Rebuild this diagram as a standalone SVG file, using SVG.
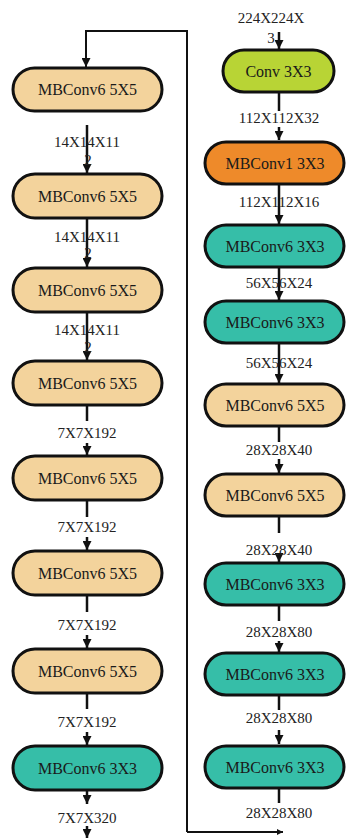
<svg xmlns="http://www.w3.org/2000/svg" width="346" height="838" viewBox="0 0 346 838">
<style>
.n{stroke:#111;stroke-width:3}
.tan{fill:#F3D39C}
.teal{fill:#36BEA8}
.lime{fill:#B8D435}
.orange{fill:#EE8A2A}
.t{font-family:"Liberation Serif","Times New Roman","DejaVu Serif",serif;font-size:16px;fill:#1a1a1a;text-anchor:middle}
.l{font-family:"Liberation Serif","Times New Roman","DejaVu Serif",serif;font-size:15px;fill:#222;text-anchor:middle}
.c{stroke:#111;stroke-width:2.5;fill:none}
.r{stroke:#111;stroke-width:2;fill:none}
</style>
<defs>
<marker id="ah" viewBox="0 0 10 10" refX="10" refY="5" markerWidth="9" markerHeight="9" markerUnits="userSpaceOnUse" orient="auto"><path d="M0,0 L10,5 L0,10 z" fill="#111"/></marker>
<marker id="as" viewBox="0 0 10 10" refX="10" refY="5" markerWidth="6" markerHeight="6" markerUnits="userSpaceOnUse" orient="auto"><path d="M0,0 L10,5 L0,10 z" fill="#111"/></marker>
</defs>
<g id="connectors">
<path class="c" d="M87,125 V173" marker-end="url(#ah)"/>
<path class="c" d="M87,218 V267" marker-end="url(#ah)"/>
<path class="c" d="M87,312 V360" marker-end="url(#ah)"/>
<path class="c" d="M87,405 V421"/><path class="c" d="M87,443 V455" marker-end="url(#ah)"/>
<path class="c" d="M87,500 V517"/><path class="c" d="M87,537 V550" marker-end="url(#ah)"/>
<path class="c" d="M87,595 V612"/><path class="c" d="M87,635 V648" marker-end="url(#ah)"/>
<path class="c" d="M87,693 V709"/><path class="c" d="M87,732 V745" marker-end="url(#ah)"/>
<path class="c" d="M87,790 V804" marker-end="url(#ah)"/>
<path class="c" d="M87,826 V838" marker-end="url(#ah)"/>
<path class="c" d="M279,32 V49" marker-end="url(#ah)"/>
<path class="c" d="M279,92 V111"/><path class="c" d="M279,127 V140" marker-end="url(#ah)"/>
<path class="c" d="M279,184 V224" marker-end="url(#ah)"/>
<path class="c" d="M279,267 V300" marker-end="url(#ah)"/>
<path class="c" d="M279,343 V383" marker-end="url(#ah)"/>
<path class="c" d="M279,426 V442"/><path class="c" d="M279,459 V473" marker-end="url(#ah)"/>
<path class="c" d="M279,516 V533"/><path class="c" d="M279,555 V562" marker-end="url(#ah)"/>
<path class="c" d="M279,605 V621"/><path class="c" d="M279,641 V652" marker-end="url(#ah)"/>
<path class="c" d="M279,695 V710"/><path class="c" d="M279,730 V744" marker-end="url(#ah)"/>
<path class="c" d="M279,788 V803"/>
<path class="r" d="M187,832 H283" marker-end="url(#as)"/>
<path class="r" d="M187,832 V31 H86 V67" marker-end="url(#ah)"/>
</g>
<g id="labels">
<text class="l" x="87" y="147">14X14X11</text><text class="l" x="88" y="165">2</text>
<text class="l" x="87" y="242">14X14X11</text><text class="l" x="88" y="258">2</text>
<text class="l" x="87" y="335">14X14X11</text><text class="l" x="88" y="352">2</text>
<text class="l" x="87" y="438">7X7X192</text>
<text class="l" x="87" y="532">7X7X192</text>
<text class="l" x="87" y="630">7X7X192</text>
<text class="l" x="87" y="727">7X7X192</text>
<text class="l" x="87" y="823">7X7X320</text>
<text class="l" x="271" y="23">224X224X</text><text class="l" x="271" y="43">3</text>
<text class="l" x="279" y="123">112X112X32</text>
<text class="l" x="279" y="207">112X112X16</text>
<text class="l" x="279" y="288">56X56X24</text>
<text class="l" x="279" y="368">56X56X24</text>
<text class="l" x="279" y="455">28X28X40</text>
<text class="l" x="279" y="555">28X28X40</text>
<text class="l" x="279" y="637">28X28X80</text>
<text class="l" x="279" y="723">28X28X80</text>
<text class="l" x="279" y="818">28X28X80</text>
</g>
<g id="L1"><rect class="n tan" x="13" y="68" width="149" height="43" rx="21.5"/><text class="t" x="87.5" y="95">MBConv6 5X5</text></g>
<g id="L2"><rect class="n tan" x="13" y="174" width="149" height="44" rx="22"/><text class="t" x="87.5" y="201.5">MBConv6 5X5</text></g>
<g id="L3"><rect class="n tan" x="13" y="268" width="149" height="44" rx="22"/><text class="t" x="87.5" y="295.5">MBConv6 5X5</text></g>
<g id="L4"><rect class="n tan" x="13" y="361" width="149" height="44" rx="22"/><text class="t" x="87.5" y="388.5">MBConv6 5X5</text></g>
<g id="L5"><rect class="n tan" x="13" y="456" width="149" height="44" rx="22"/><text class="t" x="87.5" y="483.5">MBConv6 5X5</text></g>
<g id="L6"><rect class="n tan" x="13" y="551" width="149" height="44" rx="22"/><text class="t" x="87.5" y="578.5">MBConv6 5X5</text></g>
<g id="L7"><rect class="n tan" x="13" y="649" width="149" height="44" rx="22"/><text class="t" x="87.5" y="676.5">MBConv6 5X5</text></g>
<g id="L8"><rect class="n teal" x="13" y="746" width="149" height="44" rx="22"/><text class="t" x="87.5" y="773.5">MBConv6 3X3</text></g>
<g id="R1"><rect class="n lime" x="223" y="50" width="111" height="42" rx="21"/><text class="t" x="278.5" y="76.5">Conv 3X3</text></g>
<g id="R2"><rect class="n orange" x="205" y="142" width="139" height="42" rx="21"/><text class="t" x="275" y="168.5">MBConv1 3X3</text></g>
<g id="R3"><rect class="n teal" x="205" y="225" width="139" height="42" rx="21"/><text class="t" x="275" y="251.5">MBConv6 3X3</text></g>
<g id="R4"><rect class="n teal" x="205" y="301" width="139" height="42" rx="21"/><text class="t" x="275" y="327.5">MBConv6 3X3</text></g>
<g id="R5"><rect class="n tan" x="205" y="384" width="139" height="42" rx="21"/><text class="t" x="275" y="410.5">MBConv6 5X5</text></g>
<g id="R6"><rect class="n tan" x="205" y="474" width="139" height="42" rx="21"/><text class="t" x="275" y="500.5">MBConv6 5X5</text></g>
<g id="R7"><rect class="n teal" x="205" y="563" width="139" height="42" rx="21"/><text class="t" x="275" y="589.5">MBConv6 3X3</text></g>
<g id="R8"><rect class="n teal" x="205" y="653" width="139" height="42" rx="21"/><text class="t" x="275" y="679.5">MBConv6 3X3</text></g>
<g id="R9"><rect class="n teal" x="205" y="746" width="139" height="42" rx="21"/><text class="t" x="275" y="772.5">MBConv6 3X3</text></g>
</svg>
